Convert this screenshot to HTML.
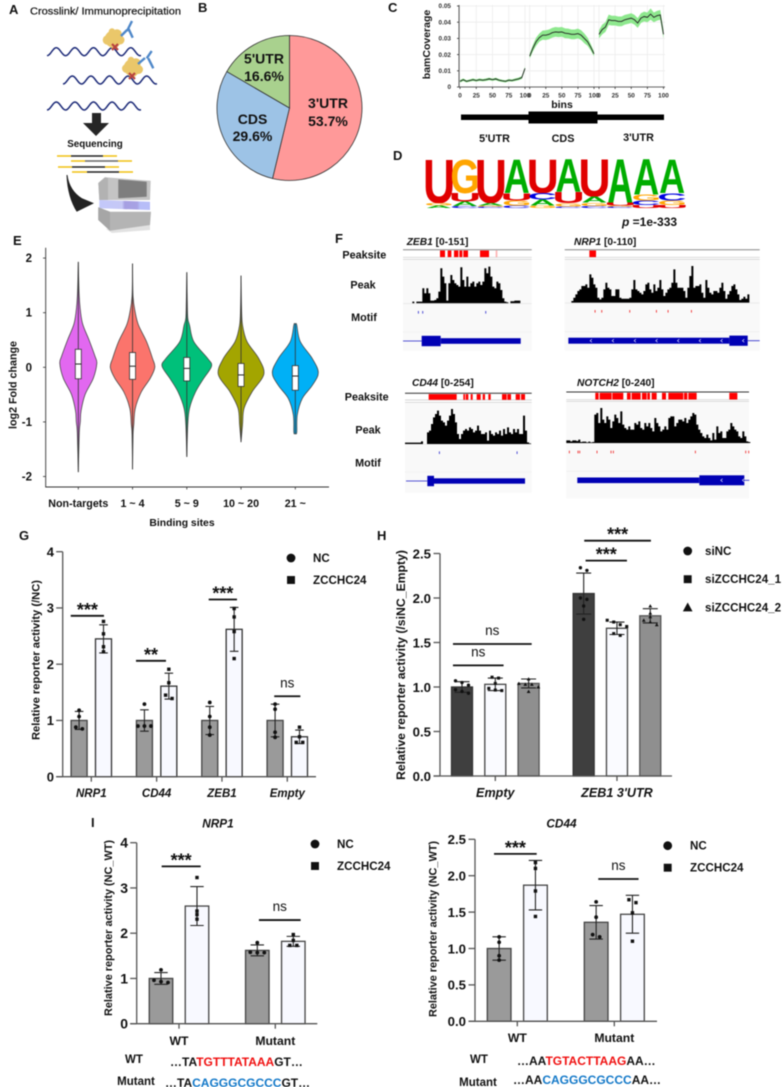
<!DOCTYPE html>
<html lang="en">
<head>
<meta charset="utf-8">
<title>ZCCHC24 figure</title>
<style>
html,body{margin:0;padding:0;background:#fff;width:784px;height:1087px;overflow:hidden}
svg{display:block;filter:blur(.4px)}
text{font-family:"Liberation Sans",sans-serif;font-weight:bold;fill:#111}
</style>
</head>
<body>
<svg id="figure" xmlns="http://www.w3.org/2000/svg" width="784" height="1087" viewBox="0 0 784 1087">
  <defs>
    <linearGradient id="band-gradient" x1="0" x2="1" y1="0" y2="0">
      <stop offset="0" stop-color="#c3c8fa"/><stop offset=".45" stop-color="#c6c8f6"/><stop offset=".5" stop-color="#a69fe2"/><stop offset=".75" stop-color="#a8a2e4"/><stop offset=".8" stop-color="#b7bdf8"/><stop offset="1" stop-color="#b7bdf8"/>
    </linearGradient>
  </defs>
  <rect width="784" height="1087" fill="#fff"/>
  <g font-size="12.5">
    <text x="9" y="14" font-size="13">A</text>
    <text x="198" y="12" font-size="13">B</text>
    <text x="388" y="12" font-size="13">C</text>
    <text x="393" y="160" font-size="13">D</text>
    <text x="13" y="245" font-size="13">E</text>
    <text x="335" y="243" font-size="13">F</text>
    <text x="19" y="540" font-size="13">G</text>
    <text x="377" y="540" font-size="13">H</text>
    <text x="91" y="827" font-size="13">I</text>
  </g>

  <g id="panel-a">
    <text x="30" y="14.5" font-size="10.4" textLength="151" lengthAdjust="spacingAndGlyphs" style="font-weight:normal;stroke:#111;stroke-width:.2">Crosslink/ Immunoprecipitation</text>
    <g id="rna-waves"></g>
    <g>
      <circle cx="113.3" cy="39" r="8.5" fill="#eac76a"/><circle cx="107.5" cy="40" r="4.8" fill="#eac76a"/><circle cx="117" cy="34" r="4.8" fill="#eac76a"/><circle cx="120" cy="40" r="4.5" fill="#eac76a"/><circle cx="114" cy="44" r="4.8" fill="#eac76a"/><circle cx="112" cy="31.5" r="3.2" fill="#eac76a"/>
      <path d="M121 36L127 30M127 31L132 21M128.3 28.3L132.7 37.7" stroke="#4f88c9" stroke-width="2.4" fill="none"/>
      <path d="M112 44L118 50M118 44L112 50" stroke="#b8433f" stroke-width="2.2"/>
    </g>
    <g>
      <circle cx="132.3" cy="67.5" r="8.5" fill="#eac76a"/><circle cx="126.5" cy="68.5" r="4.5" fill="#eac76a"/><circle cx="136" cy="63" r="4.8" fill="#eac76a"/><circle cx="138.5" cy="69.5" r="4.5" fill="#eac76a"/><circle cx="132.5" cy="72.5" r="4.8" fill="#eac76a"/><circle cx="131" cy="60" r="3.2" fill="#eac76a"/>
      <path d="M138 64L145 58M146.7 58.3L151.7 51M148.3 58.3L153.3 68.3" stroke="#4f88c9" stroke-width="2.4" fill="none"/>
      <path d="M129 73L135 79M135 73L129 79" stroke="#b8433f" stroke-width="2.2"/>
    </g>
    <path d="M92 113H101V123H109L96 136L83 123H92Z" fill="#262626"/>
    <text x="95" y="147" font-size="9.8" text-anchor="middle">Sequencing</text>
    <g stroke-width="1.4">
      <path d="M57 156H71M103 156H117M71 161H85M118 161H132M58 167H72M105 167H119M72 172H87M119 172H133" stroke="#f2c110"/>
      <path d="M71 156H103M87 172H119M72 167H105" stroke="#222"/>
      <path d="M85 161H118" stroke="#666"/>
    </g>
    <path d="M66.5 175C67 190 71 203 76.7 211.7L94 203.3L82 198.3C74 193 69 186 67.5 175Z" fill="#222"/>
    <g>
      <path d="M106 229L150 224V230L112 233Z" fill="#e2e2e2"/>
      <path d="M98.3 183L105 177.3L150.7 180.7L150 200H99.3Z" fill="#c4c4c4"/>
      <path d="M98.3 183L105 177.3L108 178V200H99.3Z" fill="#b2b2b2"/>
      <path d="M118.3 179.5L146.7 181.7V196.7L118.3 198.3Z" fill="#7e7e7e"/>
      <path d="M99.3 200L150 201.7V210L99.3 208.3Z" fill="url(#band-gradient)"/>
      <path d="M98.3 207.3L110 211.7H151L150 225L110 230.7L98.3 220Z" fill="#b4b4b4"/>
      <path d="M98.3 207.3L110 211.7V230.7L98.3 220Z" fill="#a6a6a6"/>
    </g>
  </g>

  <g id="panel-b"></g>
  <g id="panel-c">
    <text transform="translate(430 44.5) rotate(-90)" font-size="10.5" text-anchor="middle">bamCoverage</text>
    <text x="562" y="108" font-size="10.5" text-anchor="middle">bins</text>
    <g>
      <rect x="461" y="114.5" width="68" height="5.5" fill="#000"/>
      <rect x="528.5" y="111.5" width="69" height="12" fill="#000"/>
      <rect x="597" y="114.5" width="67" height="5.5" fill="#000"/>
    </g>
    <text x="494.5" y="142" font-size="10.8" text-anchor="middle">5'UTR</text>
    <text x="563" y="142" font-size="10.8" text-anchor="middle">CDS</text>
    <text x="638.5" y="141" font-size="10.8" text-anchor="middle">3'UTR</text>
  </g>
  <g id="panel-d">
    <text x="622" y="226" font-size="12"><tspan font-style="italic">p</tspan> =1e-333</text>
  </g>
  <g id="panel-e"></g>
  <g id="panel-f"></g>
  <g id="panel-g"></g>
  <g id="panel-h"></g>
  <g id="panel-i-left">
    <text x="218" y="827.5" font-size="11.8" font-style="italic" text-anchor="middle">NRP1</text>
    <text x="134" y="1063" font-size="11.5" text-anchor="middle">WT</text>
    <text x="170" y="1066" font-size="12">…TA<tspan style="fill:#f01010">TGTTTATAAA</tspan>GT…</text>
    <text x="136" y="1085" font-size="11.5" text-anchor="middle">Mutant</text>
    <text x="165" y="1087" font-size="12">…TA<tspan style="fill:#1278c8">CAGGGCGCCC</tspan>GT…</text>
  </g>
  <g id="panel-i-right">
    <text x="561.5" y="827.5" font-size="11.8" font-style="italic" text-anchor="middle">CD44</text>
    <text x="479" y="1063" font-size="11.5" text-anchor="middle">WT</text>
    <text x="517" y="1065" font-size="12">…AA<tspan style="fill:#f01010">TGTACTTAAG</tspan>AA…</text>
    <text x="478" y="1086" font-size="11.5" text-anchor="middle">Mutant</text>
    <text x="513" y="1084" font-size="12">…AA<tspan style="fill:#1278c8">CAGGGCGCCC</tspan>AA…</text>
  </g>
</svg>
<script>
/* ---------- Panel B: pie ---------- */
const pieLabels = ["3'UTR", "CDS", "5'UTR"];
const pieValues = [53.7, 29.6, 16.6];

/* ---------- Panel C: coverage ---------- */
const coverageTicksY = [0, 0.01, 0.02, 0.03, 0.04, 0.05];
const coverageTicksX = [0, 25, 50, 75, 100];
const coverageBins = [0,5,10,15,20,25,30,35,40,45,50,55,60,65,70,75,80,85,90,95,100];
const utr5Mean = [0.0035,0.0045,0.0035,0.004,0.0045,0.004,0.0045,0.0042,0.0045,0.005,0.0045,0.005,0.0042,0.0038,0.0035,0.0042,0.004,0.0045,0.005,0.0058,0.0115];
const utr5Sd = [0.0008,0.0008,0.0007,0.0007,0.0008,0.0007,0.0008,0.0007,0.0008,0.0008,0.0007,0.0008,0.0007,0.0007,0.0007,0.0007,0.0007,0.0008,0.0008,0.0009,0.001];
const cdsMean = [0.019,0.024,0.028,0.0305,0.032,0.032,0.0325,0.0335,0.034,0.0338,0.034,0.0332,0.033,0.0325,0.0325,0.033,0.032,0.03,0.028,0.0245,0.0205];
const cdsSd = [0.0015,0.002,0.0025,0.0025,0.0028,0.003,0.003,0.003,0.003,0.003,0.003,0.003,0.003,0.003,0.003,0.003,0.003,0.003,0.0025,0.002,0.0015];
const utr3Mean = [0.0325,0.0355,0.037,0.0415,0.041,0.041,0.0405,0.0405,0.0415,0.042,0.0425,0.0415,0.0395,0.0425,0.0435,0.043,0.045,0.043,0.044,0.0445,0.0325];
const utr3Sd = [0.0025,0.003,0.003,0.0032,0.003,0.003,0.003,0.003,0.003,0.003,0.003,0.003,0.003,0.003,0.003,0.003,0.0035,0.003,0.003,0.003,0.0025];

/* ---------- Panel D: logo ---------- */
const logoLetters = [['U','G','A'],['G','U','A','C'],['U','A','G','C'],['A','U','G','C'],['U','C','A','G'],['A','U','G','C'],['U','A','G','C'],['A','U','G','C'],['A','G','C','U'],['A','C','G','U']];
const logoHeights = [[90,5,5],[70,17,9,4],[90,5,3,2],[70,15,10,5],[70,13,12,5],[68,22,7,3],[77,12,7,4],[89,6,3,2],[73,12,9,6],[70,15,9,6]];

/* ---------- Panel E: violins ---------- */
const violinCategories = ['Non-targets', '1 ~ 4', '5 ~ 9', '10 ~ 20', '21 ~'];
const violinTicks = [-2, -1, 0, 1, 2];
const violinColors = ['#e268f0', '#fb746c', '#00c07a', '#a3a500', '#00b0f6'];
const violin1Levels = [1.93,1.39,1.1,0.8,0.5,0.2,0.07,-0.2,-0.5,-0.8,-1,-1.2,-1.92];
const violin1Density = [0,3,7,17,43,67,74,60,27,11,8,4,0];
const violin2Levels = [1.9,1.3,1,0.77,0.47,0.16,0,-0.2,-0.45,-0.75,-1.05,-1.24,-1.87];
const violin2Density = [0,2,11,24,56,80,89,71,35,11,5,2,0];
const violin3Levels = [1.74,1.2,0.9,0.77,0.47,0.16,0.02,-0.2,-0.45,-0.75,-1.05,-1.64];
const violin3Density = [0,2,4,11,28,84,99,68,35,11,4,0];
const violin4Levels = [1.68,1.1,0.77,0.47,0.16,-0.13,-0.45,-0.75,-1.05,-1.37];
const violin4Density = [0,2,6,24,71,91,44,12,6,0];
const violin5Levels = [0.8,0.77,0.47,0.16,-0.1,-0.33,-0.57,-0.87,-1.18,-1.22];
const violin5Density = [3,6,20,68,92,68,28,8,6,3];
const violinQ3 = [0.33, 0.27, 0.18, 0.07, 0.03];
const violinMedian = [0.06, 0.02, -0.02, -0.14, -0.16];
const violinQ1 = [-0.21, -0.22, -0.25, -0.35, -0.42];

/* ---------- Panel F: tracks ---------- */
const zeb1Signal = [5,0,5,5,5,45,30,45,30,8,8,10,15,35,105,80,60,8,60,85,70,60,55,50,108,70,50,80,50,60,65,50,60,65,55,65,105,90,110,80,50,45,65,60,40,15,5,3,0,6,6,8,8,8];
const nrp1Signal = [5,15,25,35,40,50,50,55,45,85,75,55,45,15,10,15,40,60,45,40,20,20,40,40,15,12,12,12,12,15,40,68,40,35,30,25,35,55,60,40,30,55,35,45,68,40,20,30,40,45,60,100,60,45,45,45,35,15,45,80,110,45,50,50,55,30,15,68,45,30,25,35,35,30,45,60,35,12,25,35,50,55,40,25,8,12,18,12,25];
const cd44Signal = [4,4,4,4,4,4,4,4,8,0,0,35,40,60,80,90,100,85,70,65,55,70,85,105,90,65,30,15,30,40,45,40,50,45,35,40,55,40,30,30,35,10,40,30,25,35,30,40,25,45,30,50,35,30,45,35,45,30,30,85,40,5,2];
const notch2Signal = [8,8,5,8,8,6,10,3,4,4,2,4,2,3,85,90,60,105,70,60,80,70,45,65,85,75,60,95,55,45,40,50,40,40,60,55,65,45,40,60,50,60,45,35,75,60,50,35,40,50,40,75,80,80,50,60,70,70,65,75,60,70,80,90,85,55,40,30,20,15,25,15,8,30,10,50,30,35,15,15,35,40,60,50,40,35,20,15,35,20,5,3];
const zeb1Peaksites = [[330,345],[353,364],[372,385],[388,397],[400,414],[450,477],[497,502]];
const nrp1Peaksites = [[778,798]];
const cd44Peaksites = [[296,380],[400,405],[407,415],[422,428],[440,452],[458,465],[475,482],[516,530],[532,543],[557,570],[573,585]];
const notch2Peaksites = [[796,806],[809,845],[847,880],[891,902],[905,932],[936,950],[952,960],[965,980],[996,1008],[1015,1060],[1062,1072],[1075,1100],[1198,1222]];
const zeb1Motifs = [265, 278, 467];
const nrp1Motifs = [795, 815, 899, 979, 1014, 1084];
const cd44Motifs = [328, 561];
const notch2Motifs = [718, 744, 749, 801, 843, 850, 1096, 1247, 1256];

/* ---------- Panel G ---------- */
const gCategories = ['NRP1', 'CD44', 'ZEB1', 'Empty'];
const gSeriesNames = ['NC', 'ZCCHC24'];
const gTicks = [0, 1, 2, 3, 4];
const gNcMeans = [1, 1, 1, 1];
const gZccMeans = [2.45, 1.61, 2.62, 0.71];
const gNcSd = [0.16, 0.19, 0.25, 0.29];
const gZccSd = [0.25, 0.23, 0.39, 0.12];
const gNcPoints = [[1.18,1.07,0.88,0.85],[1.29,0.9,0.9,0.9],[1.32,1.07,0.88,0.74],[1.29,1.2,0.79,0.7]];
const gZccPoints = [[2.76,2.54,2.31,2.22],[1.91,1.67,1.45,1.39],[2.99,2.84,2.58,2.1],[0.88,0.71,0.61,0.61]];
const gSigLevels = [2.86, 2.06, 3.15, 1.43];
const gSigSpans = [[-0.315,0.194],[0.684,1.143],[1.797,2.23],[2.8,3.2]];
const gSigLabels = ['***', '**', '***', 'ns'];

/* ---------- Panel H ---------- */
const hCategories = ['Empty', "ZEB1 3'UTR"];
const hSeriesNames = ['siNC', 'siZCCHC24_1', 'siZCCHC24_2'];
const hTicks = [0, 0.5, 1, 1.5, 2, 2.5];
const hSiNcMeans = [1.0, 2.05];
const hSi1Means = [1.03, 1.66];
const hSi2Means = [1.04, 1.8];
const hSiNcSd = [0.06, 0.23];
const hSi1Sd = [0.07, 0.07];
const hSi2Sd = [0.05, 0.08];
const hSiNcPoints = [[1.07,1.05,1.02,0.97,0.95,0.93],[2.34,2.31,2.0,1.985,1.91,1.76]];
const hSi1Points = [[1.11,1.1,1.04,0.985,0.966,0.96],[1.75,1.73,1.7,1.68,1.6,1.58]];
const hSi2Points = [[1.09,1.04,1.03,1.03,1.0,0.95],[1.91,1.83,1.79,1.75,1.73,1.7]];
const hSigLevels = [1.483, 1.243, 2.644, 2.42];
const hSigSpans = [[-0.348,0.299],[-0.348,0.068],[0.731,1.279],[0.742,1.082]];
const hSigLabels = ['ns', 'ns', '***', '***'];

/* ---------- Panel I left (NRP1) ---------- */
const iCategories = ['WT', 'Mutant'];
const iSeriesNames = ['NC', 'ZCCHC24'];
const nrp1Ticks = [0, 1, 2, 3, 4];
const nrp1NcMeans = [1.0, 1.62];
const nrp1ZccMeans = [2.6, 1.82];
const nrp1NcSd = [0.13, 0.12];
const nrp1ZccSd = [0.43, 0.11];
const nrp1NcPoints = [[1.19,0.96,0.93,0.91],[1.79,1.58,1.57,1.57]];
const nrp1ZccPoints = [[3.23,2.49,2.41,2.31],[1.97,1.84,1.73,1.73]];
const nrp1SigLevels = [3.477, 2.29];
const nrp1SigSpans = [[-0.18,0.225],[0.83,1.263]];
const nrp1SigLabels = ['***', 'ns'];

/* ---------- Panel I right (CD44) ---------- */
const cd44Ticks = [0, 0.5, 1, 1.5, 2, 2.5];
const cd44NcMeans = [1.0, 1.36];
const cd44ZccMeans = [1.87, 1.47];
const cd44NcSd = [0.16, 0.23];
const cd44ZccSd = [0.34, 0.26];
const cd44NcPoints = [[1.16,1.085,0.9,0.84],[1.64,1.43,1.19,1.16]];
const cd44ZccPoints = [[2.18,2.1,1.79,1.44],[1.67,1.63,1.49,1.1]];
const cd44SigLevels = [2.3, 1.955];
const cd44SigSpans = [[-0.24,0.2],[0.835,1.25]];
const cd44SigLabels = ['***', 'ns'];

const NS = 'http://www.w3.org/2000/svg';
function el(tag, attrs, parent) {
  const n = document.createElementNS(NS, tag);
  for (const k in attrs) n.setAttribute(k, attrs[k]);
  parent.appendChild(n);
  return n;
}
function txt(parent, s, x, y, size, opts) {
  const n = el('text', Object.assign({x: x, y: y, 'font-size': size}, opts || {}), parent);
  n.textContent = s;
  return n;
}
function byId(id) { return document.getElementById(id); }

/* RNA strands */
(function () {
  const g = byId('rna-waves');
  const strands = [[47, 51.7], [63, 80], [47, 106]];
  strands.forEach(function (s) {
    let d = '';
    for (let i = 0; i <= 94; i += 1) {
      d += (i ? 'L' : 'M') + (s[0] + i) + ' ' + (s[1] + 4 * Math.cos((i / 18.6) * Math.PI * 2)).toFixed(2);
    }
    const p = el('path', {d: d, fill: 'none', stroke: '#1c2a78', 'stroke-width': 1.5}, g);
    
    
  });
})();

/* Pie */
(function () {
  const g = byId('panel-b');
  const cx = 289.5, cy = 108, r = 72.5;
  const fills = ['#ff9999', '#9dc3e6', '#a9d18e'];
  const total = pieValues.reduce(function (a, b) { return a + b; }, 0);
  let a0 = 0;
  pieValues.forEach(function (v, i) {
    const a1 = a0 + (v / total) * Math.PI * 2;
    const large = a1 - a0 > Math.PI ? 1 : 0;
    const d = 'M' + cx + ' ' + cy + 'L' + (cx + r * Math.sin(a0)) + ' ' + (cy - r * Math.cos(a0)) +
      'A' + r + ' ' + r + ' 0 ' + large + ' 1 ' + (cx + r * Math.sin(a1)) + ' ' + (cy - r * Math.cos(a1)) + 'Z';
    const s = el('path', {d: d, fill: fills[i], stroke: '#333', 'stroke-width': 0.8}, g);
    
    
    a0 = a1;
  });
  const pos = [[328, 108, 126], [252.5, 124, 141], [264, 63.5, 81]];
  pieLabels.forEach(function (name, i) {
    const t1 = txt(g, name, pos[i][0], pos[i][1], 14, {'text-anchor': 'middle'});
    
    
    const t2 = txt(g, pieValues[i].toFixed(1) + '%', pos[i][0], pos[i][2], 14, {'text-anchor': 'middle'});
    
    
  });
})();

/* Coverage */
(function () {
  const g = byId('panel-c');
  const y = function (v) { return 87 - v * 1620; };
  const facets = [
    {x0: 460, x1: 525, mean: utr5Mean, sd: utr5Sd},
    {x0: 529.7, x1: 594, mean: cdsMean, sd: cdsSd},
    {x0: 599, x1: 663.5, mean: utr3Mean, sd: utr3Sd}
  ];
  coverageTicksY.forEach(function (t) {
    const gl = el('line', {x1: 459, x2: 665, y1: y(t), y2: y(t), stroke: '#ececec', 'stroke-width': 0.8}, g);
    
    
    const tm = el('line', {x1: 457, x2: 459, y1: y(t), y2: y(t), stroke: '#333', 'stroke-width': 0.8}, g);
    
    
    const tl = txt(g, t === 0 ? '0' : t.toFixed(2), 451, y(t) + 2.2, 6.4, {'text-anchor': 'end', style: 'fill:#333'});
    
    
  });
  facets.forEach(function (f) {
    const x = function (b) { return f.x0 + (b / 100) * (f.x1 - f.x0); };
    coverageTicksX.forEach(function (t) {
      const gl = el('line', {x1: x(t), x2: x(t), y1: 5, y2: 87, stroke: '#ececec', 'stroke-width': 0.8}, g);
      
      
      const tm = el('line', {x1: x(t), x2: x(t), y1: 87, y2: 89, stroke: '#333', 'stroke-width': 0.8}, g);
      
      
      const tl = txt(g, String(t), x(t), 97.5, 6.4, {'text-anchor': 'middle', style: 'fill:#333'});
      
      
    });
    let up = '', down = '', line = '';
    coverageBins.forEach(function (b, i) {
      up += x(b).toFixed(2) + ',' + y(f.mean[i] + f.sd[i]).toFixed(2) + ' ';
      down = x(b).toFixed(2) + ',' + y(f.mean[i] - f.sd[i]).toFixed(2) + ' ' + down;
      line += x(b).toFixed(2) + ',' + y(f.mean[i]).toFixed(2) + ' ';
    });
    const band = el('polygon', {points: up + down, fill: '#8ee88e'}, g);
    
    
    const l = el('polyline', {points: line, fill: 'none', stroke: '#222', 'stroke-width': 0.9}, g);
    
    
  });
  const yAxis = el('line', {x1: 459, x2: 459, y1: 5, y2: 87, stroke: '#333', 'stroke-width': 0.8}, g);
  
  
  const xAxis = el('line', {x1: 459, x2: 665, y1: 87, y2: 87, stroke: '#333', 'stroke-width': 0.8}, g);
  
  
})();

/* Logo */
(function () {
  const g = byId('panel-d');
  const x0 = 426, w = 25.9, top = 158, H = 50;
  const color = {A: '#00ad00', C: '#0000e0', G: '#ffa500', U: '#e00000'};
  const bearing = {A: 0, C: 4.7, G: 4, U: 6.8};
  const inkW = {A: 72, C: 64, G: 69, U: 58};
  logoLetters.forEach(function (col, i) {
    let yy = top;
    col.forEach(function (ch, j) {
      const h = (logoHeights[i][j] / 100) * H;
      yy += h;
      const sx = w / inkW[ch];
      const t = el('text', {
        'font-size': 100,
        transform: 'translate(' + (x0 + i * w - bearing[ch] * sx) + ' ' + yy + ') scale(' + sx + ' ' + (h / 72) + ')',
        style: 'fill:' + color[ch]
      }, g);
      t.textContent = ch;
      
      
    });
  });
})();

/* Smooth path helper (Catmull-Rom) */
function smooth(pts) {
  let d = 'M' + pts[0][0].toFixed(2) + ' ' + pts[0][1].toFixed(2);
  for (let i = 0; i < pts.length - 1; i += 1) {
    const p0 = pts[i - 1] || pts[i], p1 = pts[i], p2 = pts[i + 1], p3 = pts[i + 2] || p2;
    const c1 = [p1[0] + (p2[0] - p0[0]) / 6, p1[1] + (p2[1] - p0[1]) / 6];
    const c2 = [p2[0] - (p3[0] - p1[0]) / 6, p2[1] - (p3[1] - p1[1]) / 6];
    d += 'C' + c1[0].toFixed(2) + ' ' + c1[1].toFixed(2) + ' ' + c2[0].toFixed(2) + ' ' + c2[1].toFixed(2) + ' ' + p2[0].toFixed(2) + ' ' + p2[1].toFixed(2);
  }
  return d;
}

/* Violins */
(function () {
  const g = byId('panel-e');
  const y = function (v) { return 367.3 - v * 54.6; };
  const x = function (i) { return 78.3 + i * 54.25; };
  const w = function (d) { return d * 0.25; };
  const levels = [violin1Levels, violin2Levels, violin3Levels, violin4Levels, violin5Levels];
  const dens = [violin1Density, violin2Density, violin3Density, violin4Density, violin5Density];
  violinCategories.forEach(function (c, i) {
    const rightSide = levels[i].map(function (l, j) { return [x(i) + w(dens[i][j]), y(l)]; });
    const leftSide = levels[i].map(function (l, j) { return [x(i) - w(dens[i][j]), y(l)]; }).reverse();
    const d = smooth(rightSide) + 'L' + smooth(leftSide).slice(1) + 'Z';
    const v = el('path', {d: d, fill: violinColors[i], stroke: '#4a4a4a', 'stroke-width': 0.8}, g);
    
    
    const top = levels[i][0], bot = levels[i][levels[i].length - 1];
    const wh = el('line', {x1: x(i), x2: x(i), y1: y(top), y2: y(bot), stroke: '#333', 'stroke-width': 0.8}, g);
    
    
    const box = el('rect', {x: x(i) - 3, width: 6, y: y(violinQ3[i]), height: y(violinQ1[i]) - y(violinQ3[i]), fill: '#fff', stroke: '#333', 'stroke-width': 0.8}, g);
    
    
    const med = el('line', {x1: x(i) - 3, x2: x(i) + 3, y1: y(violinMedian[i]), y2: y(violinMedian[i]), stroke: '#222', 'stroke-width': 1}, g);
    
    
    const tm = el('line', {x1: x(i), x2: x(i), y1: 487, y2: 489.5, stroke: '#333', 'stroke-width': 0.8}, g);
    
    
    const tl = txt(g, c, x(i), 507, 10.7, {'text-anchor': 'middle'});
    
    
  });
  violinTicks.forEach(function (t) {
    const tm = el('line', {x1: 43, x2: 45.7, y1: y(t), y2: y(t), stroke: '#333', 'stroke-width': 0.8}, g);
    
    
    const tl = txt(g, String(t), 32, y(t) + 4, 11.5, {'text-anchor': 'end'});
    
    
  });
  const ya = el('path', {d: 'M45.7 247.7V487H329', fill: 'none', stroke: '#333', 'stroke-width': 0.9}, g);
  
  
  const yt = txt(g, 'log2 Fold change', 0, 0, 10.7, {'text-anchor': 'middle', transform: 'translate(16.5 385) rotate(-90)'});
  
  
  const xt = txt(g, 'Binding sites', 182, 526, 10.4, {'text-anchor': 'middle'});
  
  
})();

/* Tracks */
(function () {
  const g = byId('panel-f');
  const tracks = [
    {id: 'zeb1', gene: 'ZEB1', range: '[0-151]', tx: 406.7, ty: 245, x0: 403, x1: 531.7, dom: [219, 605], l0: 249.7, l0c: '#888', l1: 257.3, l2: 259.3, bg: 350.7, base: 303.3, peakStart: 247, signal: zeb1Signal, max: 113, sites: zeb1Peaksites, motifs: zeb1Motifs, motifY: 312.3, motifColor: '#3a3ad0', thinY: 341, thin: [219, 275], thick: [275, 332], thickH: 10.4, cds: [332, 572], cdsH: 5.6, chev: [], pale: 497},
    {id: 'nrp1', gene: 'NRP1', range: '[0-110]', tx: 574, ty: 245, x0: 564.7, x1: 759.7, dom: [704, 1289], l0: 249.7, l0c: '#888', l1: 257.3, l2: 259.3, bg: 350.7, base: 302.7, peakStart: 724, signal: nrp1Signal, max: 110, sites: nrp1Peaksites, motifs: nrp1Motifs, motifY: 311.3, motifColor: '#f03030', thinY: 340.7, thin: [1253, 1289], thick: [1198, 1253], thickH: 10.2, cds: [715, 1198], cdsH: 6, chev: [783, 849, 915, 980, 1045, 1110, 1175, 1240]},
    {id: 'cd44', gene: 'CD44', range: '[0-254]', tx: 412, ty: 386, x0: 405, x1: 531.7, dom: [225, 605], l0: 393.3, l0c: '#333', l1: 400, l2: 402.3, bg: 492.7, base: 444, peakStart: 225, signal: cd44Signal, max: 105, sites: cd44Peaksites, motifs: cd44Motifs, motifY: 452.7, motifColor: '#3a3ad0', thinY: 481, thin: [228, 292], thick: [292, 312], thickH: 10.4, cds: [312, 585], cdsH: 5.4, chev: []},
    {id: 'notch2', gene: 'NOTCH2', range: '[0-240]', tx: 577, ty: 386, x0: 566.3, x1: 749, dom: [709, 1257], l0: 392, l0c: '#333', l1: 399.7, l2: 401.3, bg: 498.3, base: 443, peakStart: 709, signal: notch2Signal, max: 105, sites: notch2Peaksites, motifs: notch2Motifs, motifY: 452, motifColor: '#f03030', thinY: 480.3, thin: [1243, 1258], thick: [1108, 1243], thickH: 10, cds: [742, 1108], cdsH: 5.6, chev: [1175, 1240]}
  ];
  tracks.forEach(function (t) {
    const x = function (p) { return t.x0 + ((p - t.dom[0]) / (t.dom[1] - t.dom[0])) * (t.x1 - t.x0); };
    const bg = el('rect', {x: t.x0, y: t.l2, width: t.x1 - t.x0, height: t.bg - t.l2, fill: '#f9f9f9'}, g);
    
    
    const title = el('text', {x: t.tx, y: t.ty, 'font-size': 10.2}, g);
    title.innerHTML = '<tspan font-style="italic">' + t.gene + '</tspan> ' + t.range;
    
    
    const l0 = el('line', {x1: t.x0, x2: t.x1, y1: t.l0, y2: t.l0, stroke: t.l0c, 'stroke-width': 1}, g);
    
    
    const l1 = el('path', {d: 'M' + t.x0 + ' ' + t.l1 + 'H' + t.x1 + 'M' + t.x0 + ' ' + t.l2 + 'H' + t.x1, stroke: '#c8c8c8', 'stroke-width': 0.7}, g);
    
    
    t.sites.forEach(function (s) {
      const r = el('rect', {x: x(s[0]), y: t.l0 + 0.8, width: x(s[1]) - x(s[0]), height: t.l1 - t.l0 - 1, fill: s[0] === t.pale ? '#ffb0b0' : '#ff0000'}, g);
      
      
    });
    const ys = function (v) { return t.base - (v / t.max) * ((t.max) / 3); };
    let d = 'M' + x(t.peakStart) + ' ' + t.base;
    t.signal.forEach(function (v, i) {
      const xa = x(t.peakStart + i * 6), xb = x(t.peakStart + (i + 1) * 6);
      d += 'L' + xa.toFixed(2) + ' ' + ys(v).toFixed(2) + 'L' + xb.toFixed(2) + ' ' + ys(v).toFixed(2);
    });
    d += 'L' + x(t.peakStart + t.signal.length * 6).toFixed(2) + ' ' + t.base + 'Z';
    const p = el('path', {d: d, fill: '#000'}, g);
    
    
    const bl = el('line', {x1: t.x0, x2: t.x1, y1: t.base + 0.3, y2: t.base + 0.3, stroke: '#ddd', 'stroke-width': 0.5}, g);
    
    
    t.motifs.forEach(function (m) {
      const r = el('rect', {x: x(m) - 0.4, y: t.motifY - 1.3, width: 0.9, height: 2.6, fill: t.motifColor}, g);
      
      
    });
    const sep = el('line', {x1: t.x0, x2: t.x1, y1: t.thinY - 9, y2: t.thinY - 9, stroke: '#ececec', 'stroke-width': 0.6}, g);
    
    
    const thin = el('line', {x1: x(t.thin[0]), x2: x(t.thin[1]), y1: t.thinY, y2: t.thinY, stroke: '#2020c8', 'stroke-width': 0.8}, g);
    
    
    const thick = el('rect', {x: x(t.thick[0]), y: t.thinY - t.thickH / 2, width: x(t.thick[1]) - x(t.thick[0]), height: t.thickH, fill: '#0000b4'}, g);
    
    
    const cds = el('rect', {x: x(t.cds[0]), y: t.thinY - t.cdsH / 2, width: x(t.cds[1]) - x(t.cds[0]), height: t.cdsH, fill: '#0000b4'}, g);
    
    
    t.chev.forEach(function (c) {
      const cx = x(c);
      const ch = el('path', {d: 'M' + (cx + 0.9) + ' ' + (t.thinY - 1.6) + 'L' + (cx - 0.9) + ' ' + t.thinY + 'L' + (cx + 0.9) + ' ' + (t.thinY + 1.6), fill: 'none', stroke: '#dfe0ff', 'stroke-width': 0.7}, g);
      
      
    });
  });
  const rows = [['Peaksite', 364.3, 258.5], ['Peak', 363, 288.5], ['Motif', 364, 321], ['Peaksite', 366.7, 400.5], ['Peak', 368, 433.5], ['Motif', 368, 466.5]];
  rows.forEach(function (r) {
    const t = txt(g, r[0], r[1], r[2], 10.8, {'text-anchor': 'middle'});
    
    
  });
})();

/* Bars */
function spread(values, yf, thresh, step) {
  const order = values.map(function (v, i) { return i; }).sort(function (a, b) { return values[b] - values[a]; });
  const offs = values.map(function () { return 0; });
  let cluster = [];
  function flush() {
    cluster.forEach(function (idx, k) { offs[idx] = (k - (cluster.length - 1) / 2) * step; });
    cluster = [];
  }
  order.forEach(function (idx) {
    if (cluster.length && Math.abs(yf(values[idx]) - yf(values[cluster[cluster.length - 1]])) >= thresh) flush();
    cluster.push(idx);
  });
  flush();
  return offs;
}
function marker(g, kind, x, y, r, fill) {
  if (kind === 'circle') return el('circle', {cx: x, cy: y, r: r, fill: fill}, g);
  if (kind === 'square') return el('rect', {x: x - r * 0.9, y: y - r * 0.9, width: r * 1.8, height: r * 1.8, fill: fill}, g);
  return el('path', {d: 'M' + x + ' ' + (y - r * 1.1) + 'L' + (x + r * 1.1) + ' ' + (y + r * 0.9) + 'L' + (x - r * 1.1) + ' ' + (y + r * 0.9) + 'Z', fill: fill}, g);
}
function barChart(c) {
  const g = c.g;
  const y = function (v) { return c.y0 - v * c.unit; };
  const xc = function (i) { return c.c0 + i * c.spacing; };
  const nS = c.means.length;
  c.cats.forEach(function (cat, i) {
    c.means.forEach(function (series, s) {
      const bx = xc(i) + (s - (nS - 1) / 2) * c.gap;
      const bar = el('rect', {x: bx - c.barW / 2, y: y(series[i]), width: c.barW, height: c.y0 - y(series[i]), fill: c.fills[s], stroke: c.strokes[s], 'stroke-width': 1.3}, g);
      
      
      const sd = c.sds[s][i];
      const eb = el('path', {d: 'M' + bx + ' ' + y(series[i] + sd) + 'V' + y(series[i] - sd) + 'M' + (bx - c.cap) + ' ' + y(series[i] + sd) + 'H' + (bx + c.cap) + 'M' + (bx - c.cap) + ' ' + y(series[i] - sd) + 'H' + (bx + c.cap), stroke: '#222', 'stroke-width': 1.1, fill: 'none'}, g);
      
      
      const pts = c.points[s][i];
      const offs = spread(pts, y, c.thresh, c.step);
      pts.forEach(function (v, k) {
        const m = marker(g, c.markers[s], bx + offs[k], y(v), c.dotR, '#111');
        
        
      });
    });
    const tm = el('line', {x1: xc(i), x2: xc(i), y1: c.y0, y2: c.y0 + 5, stroke: '#555', 'stroke-width': 1.3}, g);
    
    
    const tl = txt(g, cat, xc(i), c.xLabelY, c.xLabelSize, {'text-anchor': 'middle', 'font-style': c.italic ? 'italic' : 'normal'});
    
    
  });
  c.ticks.forEach(function (t) {
    const tm = el('line', {x1: c.axisX - c.tickLen, x2: c.axisX, y1: y(t), y2: y(t), stroke: '#555', 'stroke-width': 1.3}, g);
    
    
    const tl = txt(g, c.fmt(t), c.tickLabelX, y(t) + c.tickSize * 0.36, c.tickSize, {'text-anchor': 'end'});
    
    
  });
  const top = c.ticks[c.ticks.length - 1];
  const axes = el('path', {d: 'M' + c.axisX + ' ' + y(top) + 'V' + c.y0 + 'M' + (c.axisX - c.tickLen) + ' ' + c.y0 + 'H' + c.axisEnd, stroke: '#555', 'stroke-width': 1.3, fill: 'none'}, g);
  
  
  const yt = txt(g, c.yTitle, 0, 0, c.yTitleSize, {'text-anchor': 'middle', transform: 'translate(' + c.yTitleX + ' ' + c.yTitleY + ') rotate(-90)', textLength: c.yTitleLen, lengthAdjust: 'spacingAndGlyphs'});
  
  
  c.sigLabels.forEach(function (s, i) {
    const span = c.sigSpans[i];
    const xa = xc(span[0]), xb = xc(span[1]), ly = y(c.sigLevels[i]);
    const ln = el('line', {x1: xa, x2: xb, y1: ly, y2: ly, stroke: '#111', 'stroke-width': 1.8}, g);
    
    
    const isNs = s === 'ns';
    const st = txt(g, s, (xa + xb) / 2, isNs ? ly - 9 : ly, isNs ? 13.5 : 18, {'text-anchor': 'middle', style: isNs ? 'font-weight:normal' : ''});
    
    
  });
  c.series.forEach(function (s, i) {
    const m = marker(g, c.markers[i], c.legendX, c.legendY + i * c.legendStep, c.legendR, '#111');
    
    
    const t = txt(g, s, c.legendTextX, c.legendY + i * c.legendStep + 4, 11.6);
    
    
  });
}
const fmtInt = function (t) { return String(t); };
const fmtOne = function (t) { return t.toFixed(1); };
barChart({
  g: byId('panel-g'), name: 'g-chart', cats: gCategories, series: gSeriesNames,
  means: [gNcMeans, gZccMeans], sds: [gNcSd, gZccSd], points: [gNcPoints, gZccPoints],
  ticks: gTicks, fmt: fmtInt, y0: 776.7, unit: 56.25, c0: 91.3, spacing: 65.33, barW: 16, gap: 24.4,
  fills: ['#9a9a9a', '#f8f9ff'], strokes: ['#444', '#333'], markers: ['circle', 'square'],
  cap: 4.3, dotR: 1.9, thresh: 3.5, step: 6.5, axisX: 62.7, axisEnd: 316, tickLen: 6.5, tickLabelX: 54, tickSize: 13,
  xLabelY: 797, xLabelSize: 11.5, italic: true, yTitle: 'Relative reporter activity (/NC)', yTitleX: 39.5, yTitleY: 660, yTitleLen: 160, yTitleSize: 11,
  sigLabels: gSigLabels, sigLevels: gSigLevels, sigSpans: gSigSpans,
  legendX: 291, legendY: 558, legendStep: 22, legendR: 4.4, legendTextX: 313
});
barChart({
  g: byId('panel-h'), name: 'h-chart', cats: hCategories, series: hSeriesNames,
  means: [hSiNcMeans, hSi1Means, hSi2Means], sds: [hSiNcSd, hSi1Sd, hSi2Sd], points: [hSiNcPoints, hSi1Points, hSi2Points],
  ticks: hTicks, fmt: fmtOne, y0: 776, unit: 89, c0: 495.3, spacing: 121.67, barW: 21, gap: 33.3,
  fills: ['#3f3f3f', '#fafbff', '#8f8f8f'], strokes: ['#333', '#444', '#555'], markers: ['circle', 'square', 'triangle'],
  cap: 7.5, dotR: 1.7, thresh: 3.2, step: 6.5, axisX: 440, axisEnd: 672, tickLen: 6.5, tickLabelX: 431, tickSize: 13.2,
  xLabelY: 797, xLabelSize: 12.6, italic: true, yTitle: 'Relative reporter activity (/siNC_Empty)', yTitleX: 405, yTitleY: 665, yTitleLen: 230, yTitleSize: 12,
  sigLabels: hSigLabels, sigLevels: hSigLevels, sigSpans: hSigSpans,
  legendX: 687.7, legendY: 551, legendStep: 28.2, legendR: 4.4, legendTextX: 705
});
barChart({
  g: byId('panel-i-left'), name: 'nrp1-chart', cats: iCategories, series: iSeriesNames,
  means: [nrp1NcMeans, nrp1ZccMeans], sds: [nrp1NcSd, nrp1ZccSd], points: [nrp1NcPoints, nrp1ZccPoints],
  ticks: nrp1Ticks, fmt: fmtInt, y0: 1023.7, unit: 45.25, c0: 179, spacing: 96.3, barW: 23.5, gap: 36,
  fills: ['#9a9a9a', '#f8f9ff'], strokes: ['#444', '#444'], markers: ['circle', 'square'],
  cap: 6.7, dotR: 1.9, thresh: 3.5, step: 7, axisX: 136.7, axisEnd: 317.3, tickLen: 6.5, tickLabelX: 128, tickSize: 14,
  xLabelY: 1045, xLabelSize: 12.2, italic: false, yTitle: 'Relative reporter activity (NC_WT)', yTitleX: 112, yTitleY: 928, yTitleLen: 176, yTitleSize: 10.8,
  sigLabels: nrp1SigLabels, sigLevels: nrp1SigLevels, sigSpans: nrp1SigSpans,
  legendX: 315, legendY: 844, legendStep: 22, legendR: 4.4, legendTextX: 337
});
barChart({
  g: byId('panel-i-right'), name: 'cd44-chart', cats: iCategories, series: iSeriesNames,
  means: [cd44NcMeans, cd44ZccMeans], sds: [cd44NcSd, cd44ZccSd], points: [cd44NcPoints, cd44ZccPoints],
  ticks: cd44Ticks, fmt: fmtOne, y0: 1021.3, unit: 72.8, c0: 517.3, spacing: 97, barW: 23.7, gap: 36.3,
  fills: ['#9a9a9a', '#f8f9ff'], strokes: ['#444', '#444'], markers: ['circle', 'square'],
  cap: 6.7, dotR: 1.9, thresh: 3, step: 7, axisX: 475, axisEnd: 657, tickLen: 6.5, tickLabelX: 466, tickSize: 13.2,
  xLabelY: 1042, xLabelSize: 12.2, italic: false, yTitle: 'Relative reporter activity (NC_WT)', yTitleX: 436.5, yTitleY: 929, yTitleLen: 176, yTitleSize: 10.8,
  sigLabels: cd44SigLabels, sigLevels: cd44SigLevels, sigSpans: cd44SigSpans,
  legendX: 667.7, legendY: 845.7, legendStep: 22, legendR: 4.4, legendTextX: 690
});
</script>
</body>
</html>
